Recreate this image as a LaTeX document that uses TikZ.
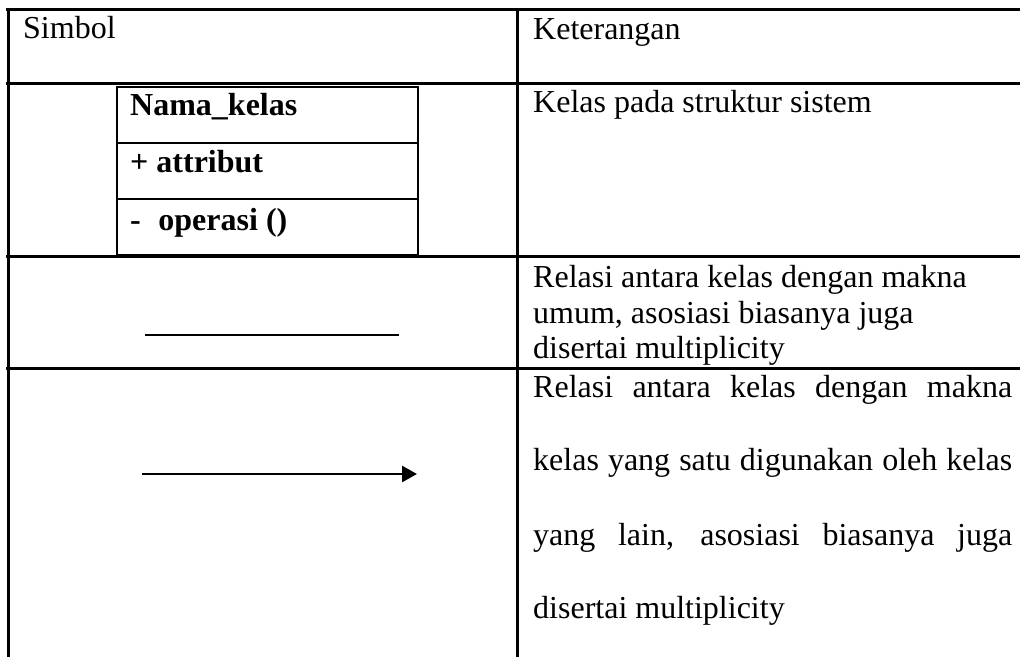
\documentclass[tikz,border=0pt]{standalone}
\usepackage{fontspec}
\setmainfont{Liberation Serif}
\usetikzlibrary{arrows.meta}
\begin{document}
\begin{tikzpicture}[x=1pt,y=-1pt,
  tbl/.style={line width=3pt},
  boxline/.style={line width=2.8pt},
  conn/.style={line width=2.6pt},
  txt/.style={anchor=base west,inner sep=0pt,font=\fontsize{32}{36}\selectfont},
  btxt/.style={txt,font=\fontsize{32}{36}\selectfont\bfseries}]
\useasboundingbox (0,0) rectangle (1020,657);

% table grid
\draw[tbl] (6,9) -- (1020,9);
\draw[tbl] (6,83) -- (1020,83);
\draw[tbl] (6,256) -- (1020,256);
\draw[tbl] (6,368) -- (1020,368);
\draw[tbl] (8,9) -- (8,657);
\draw[tbl] (517,9) -- (517,657);

% header
\node[txt] (hsym) at (23,38) {Simbol};
\node[txt] (hket) at (533,39) {Keterangan};

% class symbol
\draw[boxline] (117,87) rectangle (418,255);
\draw[boxline] (117,143) -- (418,143);
\draw[boxline] (117,199) -- (418,199);
\node[btxt] (cname) at (130,115) {Nama\_kelas};
\node[btxt] (cattr) at (130,172) {+ attribut};
\node[btxt] (cop) at (130,230) {-\hspace{0.55em}operasi ()};
\node[txt] (kclass) at (533,112) {Kelas pada struktur sistem};

% association
\coordinate (a1) at (145,335);
\coordinate (a2) at (399,335);
\draw[conn] (a1) -- (a2);
\node[txt] (kas1) at (533,287) {Relasi antara kelas dengan makna};
\node[txt] (kas2) at (533,323) {umum, asosiasi biasanya juga};
\node[txt] (kas3) at (533,358) {disertai multiplicity};

% directed association
\coordinate (d1) at (142,474);
\coordinate (d2) at (417,474);
\draw[conn,-{Triangle[length=15pt,width=16pt]}] (d1) -- (d2);
\node[txt] (kdir1) at (533,397) {\makebox[479pt][s]{Relasi antara kelas dengan makna}};
\node[txt] (kdir2) at (533,470) {\makebox[479pt][s]{kelas yang satu digunakan oleh kelas}};
\node[txt] (kdir3) at (533,545) {\makebox[479pt][s]{yang lain, asosiasi biasanya juga}};
\node[txt] (kdir4) at (533,618) {disertai multiplicity};
\end{tikzpicture}
\end{document}
